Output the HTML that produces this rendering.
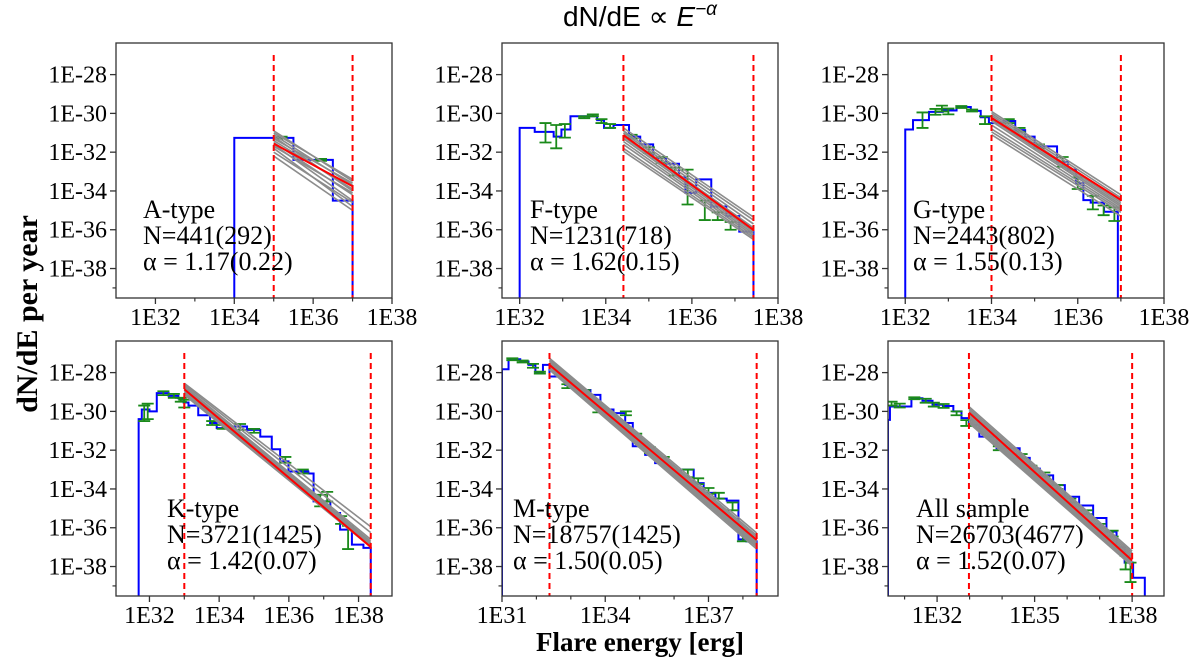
<!DOCTYPE html>
<html><head><meta charset="utf-8">
<style>
html,body{margin:0;padding:0;background:#fff;}
svg{display:block;}
.tk{font-family:"Liberation Serif",serif;font-size:24px;fill:#000;}
.ann{font-family:"Liberation Serif",serif;font-size:26px;fill:#000;}
</style></head>
<body>
<svg id="fig" width="1200" height="661" viewBox="0 0 1200 661" xmlns="http://www.w3.org/2000/svg">
<text x="640" y="26" text-anchor="middle" font-family="Liberation Sans, sans-serif" font-size="28">dN/dE ∝ <tspan font-style="italic">E</tspan><tspan font-style="italic" font-size="19" dy="-11">−α</tspan></text>
<text transform="translate(37,314) rotate(-90)" text-anchor="middle" font-family="Liberation Serif, serif" font-weight="bold" font-size="30">dN/dE per year</text>
<text x="640" y="651" text-anchor="middle" font-family="Liberation Serif, serif" font-weight="bold" font-size="27">Flare energy [erg]</text>
</svg>
<script>
// ---- A-type ----
const aEdges=[34,35.5,36.5,37];
const aValues=[-31.26,-32.4,-34.5];
const aErrX=[35.2,36.2];const aErrY=[-31.25,-32.4];const aErrE=[0.05,0.05];
const aFit=[35,37];const aFitY0=-31.56;const aAlpha=1.1;
const aGrayStart=[-30.9,-31.0,-31.1,-31.2,-31.3,-31.4,-31.5,-31.6,-31.7,-31.8,-32.0,-32.2];
const aGrayEnd=[-33.5,-33.4,-33.7,-34.0,-33.6,-33.9,-34.2,-34.5,-34.1,-34.8,-34.6,-35.0];
// ---- F-type ----
const fEdges=[32,32.35,32.79,32.97,33.18,33.8,33.96,34.18,34.54,34.8,35.1,35.4,35.7,35.85,36.1,36.45,36.8,37.1,37.43];
const fValues=[-30.75,-30.95,-31.2,-30.83,-30.15,-30.35,-30.75,-30.6,-31.2,-31.6,-32.3,-32.6,-33.3,-34.1,-33.4,-34.8,-35.3,-36.1];
const fErrX=[32.6,32.85,33.05,33.5,33.7,33.9,34.1,34.6,35.0,35.3,35.6,35.9,36.3,36.6,36.9];
const fErrY=[-31.0,-31.2,-30.9,-30.2,-30.1,-30.4,-30.65,-31.2,-31.9,-32.4,-33.0,-33.8,-35.0,-35.3,-35.8];
const fErrE=[0.5,0.6,0.35,0.05,0.05,0.1,0.1,0.1,0.15,0.15,0.2,0.9,0.5,0.2,0.2];
const fFit=[34.41,37.43];const fFitY0=-31.12;const fAlpha=1.62;
const fGrayStart=[-30.75,-30.9,-31.0,-31.1,-31.2,-31.3,-31.45,-31.6,-31.8,-31.95];
const fGrayEnd=[-35.35,-35.5,-35.7,-35.9,-36.0,-36.1,-36.2,-36.3,-36.4,-36.5];
// ---- G-type ----
const gEdges=[32,32.18,32.55,32.87,33.19,33.52,33.75,33.94,34.28,34.55,34.78,35.0,35.23,35.52,35.77,35.96,36.13,36.3,36.61,36.93];
const gValues=[-30.83,-30.35,-29.92,-29.85,-29.67,-29.87,-30.2,-30.5,-30.39,-30.86,-31.2,-31.7,-31.7,-32.5,-32.9,-33.6,-34.47,-34.6,-35.07];
const gErrX=[32.4,32.7,32.85,33.0,33.3,33.55,33.85,34.4,34.65,35.1,35.65,36.0,36.35,36.6,36.85];
const gErrY=[-30.35,-29.92,-29.75,-29.9,-29.67,-29.85,-30.35,-30.4,-30.85,-31.7,-32.5,-33.6,-34.6,-35.0,-35.2];
const gErrE=[0.4,0.15,0.15,0.15,0.05,0.05,0.2,0.1,0.1,0.1,0.25,0.3,0.35,0.25,0.35];
const gFit=[34,37];const gFitY0=-30.23;const gAlpha=1.41;
const gGrayStart=[-29.9,-30.0,-30.1,-30.2,-30.3,-30.4,-30.6,-30.8,-30.95,-31.1];
const gGrayEnd=[-34.2,-34.35,-34.5,-34.6,-34.7,-34.8,-34.9,-35.0,-35.1,-35.3];
// ---- K-type ----
const kEdges=[31.69,31.78,32.0,32.21,32.55,32.83,32.98,33.12,33.4,33.74,33.93,34.41,34.8,35.18,35.51,35.75,35.99,36.56,36.71,37.19,37.47,37.81,38.14,38.35];
const kValues=[-30.4,-29.9,-30.0,-29.06,-29.2,-29.32,-29.54,-29.7,-30.2,-30.6,-30.86,-30.78,-30.95,-31.3,-31.95,-32.58,-33.1,-33.2,-34.64,-35.24,-36.1,-36.87,-37.04];
const kErrX=[31.85,31.95,32.4,32.7,32.9,33.0,33.8,34.1,34.6,35.0,35.9,36.4,36.9,37.1,37.5,37.7];
const kErrY=[-30.1,-30.0,-29.06,-29.2,-29.4,-29.6,-30.6,-30.8,-30.8,-31.0,-32.5,-33.1,-34.6,-34.4,-35.6,-36.5];
const kErrE=[0.4,0.4,0.1,0.1,0.1,0.2,0.1,0.1,0.15,0.1,0.15,0.1,0.3,0.25,0.2,0.6];
const kFit=[33.0,38.35];const kFitY0=-28.86;const kAlpha=1.52;
const kGrayStart=[-28.55,-28.62,-28.7,-28.78,-28.85,-28.9,-28.97,-29.03,-29.1,-29.15];
const kGrayEnd=[-35.95,-36.25,-36.6,-36.7,-36.78,-36.84,-36.88,-36.92,-36.96,-37.0];
// ---- M-type ----
const mEdges=[31,31.19,31.53,31.77,31.97,32.19,32.38,32.84,33.13,33.57,33.86,34.24,34.58,34.8,35.16,35.45,35.89,36.2,36.57,36.86,37.2,37.53,37.87,38.1,38.4];
const mValues=[-27.83,-27.31,-27.43,-27.6,-28.0,-27.6,-28.2,-28.63,-28.9,-29.15,-29.9,-30.09,-30.6,-31.8,-32.24,-32.67,-33.18,-33.0,-33.7,-34.2,-34.5,-34.6,-36.6,-36.7];
const mErrX=[31.3,31.6,31.9,32.1,32.9,33.4,33.8,34.6,34.9,35.3,35.7,36.4,36.7,37.0,37.3,37.7,38.0];
const mErrY=[-27.31,-27.43,-27.65,-28.0,-28.7,-29.0,-29.9,-30.1,-31.3,-32.0,-32.5,-33.2,-33.6,-34.1,-34.35,-34.9,-36.4];
const mErrE=[0.05,0.05,0.1,0.05,0.1,0.1,0.15,0.1,0.15,0.15,0.15,0.2,0.15,0.15,0.15,0.2,0.3];
const mFit=[32.38,38.4];const mFitY0=-27.6;const mAlpha=1.50;
const mGrayStart=[-27.26,-27.33,-27.4,-27.47,-27.54,-27.6,-27.67,-27.74,-27.8,-27.86];
const mGrayEnd=[-36.27,-36.4,-36.5,-36.6,-36.68,-36.76,-36.85,-36.93,-37.0,-37.1];
// ---- All sample ----
const sEdges=[30.49,30.55,31.21,31.55,31.86,32.18,32.5,32.75,32.98,33.3,33.83,34.54,34.85,35.16,35.57,35.93,36.37,36.8,37.21,37.52,37.77,38.03,38.39];
const sValues=[-30.44,-29.75,-29.32,-29.45,-29.65,-29.72,-30.0,-30.35,-30.7,-31.3,-31.9,-32.4,-32.95,-33.3,-33.8,-34.4,-34.85,-35.5,-36.2,-37.0,-37.8,-38.58];
const sErrX=[30.6,30.85,31.3,31.65,31.9,32.2,32.6,32.9,33.9,34.6,34.9,35.3,35.7,36.1,36.6,37.0,37.4,37.8,37.95];
const sErrY=[-29.6,-29.7,-29.32,-29.45,-29.65,-29.72,-30.1,-30.6,-31.9,-32.3,-32.9,-33.25,-33.9,-34.6,-35.2,-35.9,-36.3,-37.8,-38.3];
const sErrE=[0.1,0.1,0.05,0.1,0.1,0.1,0.1,0.15,0.1,0.1,0.1,0.1,0.1,0.1,0.1,0.1,0.15,0.35,0.5];
const sFit=[32.98,38.0];const sFitY0=-30.06;const sAlpha=1.52;
const sGrayStart=[-29.75,-29.85,-29.95,-30.05,-30.15,-30.25,-30.35,-30.45,-30.52,-30.6];
const sGrayEnd=[-37.2,-37.3,-37.4,-37.5,-37.6,-37.68,-37.75,-37.82,-37.9,-37.98];

const yTickVals=[-28,-30,-32,-34,-36,-38];
const yMinorVals=[-39];
const yLim=[-39.52,-26.37];

const NS="http://www.w3.org/2000/svg";
const svg=document.getElementById('fig');
function mk(tag,attrs,parent){const e=document.createElementNS(NS,tag);for(const k in attrs)e.setAttribute(k,attrs[k]);(parent||svg).appendChild(e);return e;}

const panels=[
 {id:'a',name:'a-type',x:116,y:43,xl:[31,38],maj:[32,34,36,38],min:[33,35,37],E:aEdges,V:aValues,ex:aErrX,ey:aErrY,ee:aErrE,fit:aFit,fy:aFitY0,al:aAlpha,gs:aGrayStart,ge:aGrayEnd,lab:['A-type','N=441(292)','α = 1.17(0.22)'],tx:143},
 {id:'f',name:'f-type',x:502,y:43,xl:[31.59,38],maj:[32,34,36,38],min:[33,35,37],E:fEdges,V:fValues,ex:fErrX,ey:fErrY,ee:fErrE,fit:fFit,fy:fFitY0,al:fAlpha,gs:fGrayStart,ge:fGrayEnd,lab:['F-type','N=1231(718)','α = 1.62(0.15)'],tx:530},
 {id:'g',name:'g-type',x:888,y:43,xl:[31.6,38],maj:[32,34,36,38],min:[33,35,37],E:gEdges,V:gValues,ex:gErrX,ey:gErrY,ee:gErrE,fit:gFit,fy:gFitY0,al:gAlpha,gs:gGrayStart,ge:gGrayEnd,lab:['G-type','N=2443(802)','α = 1.55(0.13)'],tx:913},
 {id:'k',name:'k-type',x:116,y:341,xl:[31.04,38.96],maj:[32,34,36,38],min:[33,35,37],E:kEdges,V:kValues,ex:kErrX,ey:kErrY,ee:kErrE,fit:kFit,fy:kFitY0,al:kAlpha,gs:kGrayStart,ge:kGrayEnd,lab:['K-type','N=3721(1425)','α = 1.42(0.07)'],tx:167},
 {id:'m',name:'m-type',x:502,y:341,xl:[31,39.02],maj:[31,34,37],min:[32,33,35,36,38],E:mEdges,V:mValues,ex:mErrX,ey:mErrY,ee:mErrE,fit:mFit,fy:mFitY0,al:mAlpha,gs:mGrayStart,ge:mGrayEnd,lab:['M-type','N=18757(1425)','α = 1.50(0.05)'],tx:513},
 {id:'s',name:'all-sample',x:888,y:341,xl:[30.49,38.98],maj:[32,35,38],min:[31,33,34,36,37],E:sEdges,V:sValues,ex:sErrX,ey:sErrY,ee:sErrE,fit:sFit,fy:sFitY0,al:sAlpha,gs:sGrayStart,ge:sGrayEnd,lab:['All sample','N=26703(4677)','α = 1.52(0.07)'],tx:916}
];
const W=276,H=255;

panels.forEach(p=>{
 const g=mk('g',{});
 
 
 const X=v=>p.x+(v-p.xl[0])/(p.xl[1]-p.xl[0])*W;
 const Y=v=>p.y+(yLim[1]-v)/(yLim[1]-yLim[0])*H;
 const bot=p.y+H;
 const defs=mk('defs',{},g);
 const cp=mk('clipPath',{id:'cp'+p.id},defs);
 mk('rect',{x:p.x,y:p.y,width:W,height:H},cp);
 const plot=mk('g',{'clip-path':'url(#cp'+p.id+')'},g);
 let d='M'+X(p.E[0])+','+(bot+2);
 for(let i=0;i<p.V.length;i++){d+=' L'+X(p.E[i])+','+Y(p.V[i])+' L'+X(p.E[i+1])+','+Y(p.V[i]);}
 d+=' L'+X(p.E[p.E.length-1])+','+(bot+2);
 const h=mk('path',{d:d,fill:'none',stroke:'#0000ff','stroke-width':2},plot);
 
 
 for(let i=0;i<p.ex.length;i++){
  const cx=X(p.ex[i]),y1=Y(p.ey[i]+p.ee[i]),y2=Y(p.ey[i]-p.ee[i]);
  const eb=mk('path',{d:'M'+cx+','+y1+' L'+cx+','+y2+' M'+(cx-6)+','+y1+' L'+(cx+6)+','+y1+' M'+(cx-6)+','+y2+' L'+(cx+6)+','+y2,stroke:'#1a8a1a','stroke-width':1.8,fill:'none'},plot);
  
  
 }
 for(let i=0;i<p.gs.length;i++){
  const gl=mk('line',{x1:X(p.fit[0]),y1:Y(p.gs[i]),x2:X(p.fit[1]),y2:Y(p.ge[i]),stroke:'#8c8c8c','stroke-width':1.6},plot);
  
  
 }
 const rf=mk('line',{x1:X(p.fit[0]),y1:Y(p.fy),x2:X(p.fit[1]),y2:Y(p.fy-p.al*(p.fit[1]-p.fit[0])),stroke:'#ff0000','stroke-width':2},plot);
 
 
 p.fit.forEach(v=>{
  const vl=mk('line',{x1:X(v),y1:p.y+12,x2:X(v),y2:bot,stroke:'#ff0000','stroke-width':2,'stroke-dasharray':'6,4'},plot);
  
  
 });
 const fr=mk('rect',{x:p.x,y:p.y,width:W,height:H,fill:'none',stroke:'#333','stroke-width':1.3},g);
 
 
 yTickVals.forEach(v=>{
  mk('line',{x1:p.x-6,x2:p.x,y1:Y(v),y2:Y(v),stroke:'#333','stroke-width':1.3},g);
  const t=mk('text',{x:p.x-9,y:Y(v)+8,'text-anchor':'end',class:'tk'},g);
  t.textContent='1E'+v;
  
  
 });
 yMinorVals.forEach(v=>mk('line',{x1:p.x-3.5,x2:p.x,y1:Y(v),y2:Y(v),stroke:'#333','stroke-width':1.2},g));
 p.maj.forEach(v=>{
  mk('line',{x1:X(v),x2:X(v),y1:bot,y2:bot+6,stroke:'#333','stroke-width':1.3},g);
  const t=mk('text',{x:X(v),y:bot+27,'text-anchor':'middle',class:'tk'},g);
  t.textContent='1E'+v;
  
  
 });
 p.min.forEach(v=>mk('line',{x1:X(v),x2:X(v),y1:bot,y2:bot+3.5,stroke:'#333','stroke-width':1.2},g));
 const by=p.y<100?218:517;
 p.lab.forEach((s,i)=>{
  const t=mk('text',{x:p.tx,y:by+i*26,class:'ann'},g);
  t.textContent=s;
  
  
 });
});
</script>
</body></html>
